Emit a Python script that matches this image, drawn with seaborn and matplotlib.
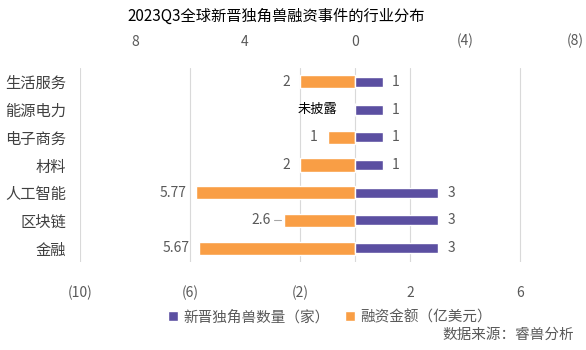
import matplotlib
matplotlib.use("Agg")
import matplotlib.pyplot as plt
import seaborn as sns
import pandas as pd
import numpy as np
from matplotlib.patches import Patch

sns.set_theme(style="white")
plt.rcParams['font.family'] = ['Noto Sans CJK SC', 'DejaVu Sans']

categories = ["生活服务", "能源电力", "电子商务", "材料", "人工智能", "区块链", "金融"]
counts = [1, 1, 1, 1, 3, 3, 3]
amounts = [2, 0, 1, 2, 5.77, 2.6, 5.67]
amount_labels = ["2", "未披露", "1", "2", "5.77", "2.6", "5.67"]
bottom_ticks = [-10, -6, -2, 2, 6]
bottom_ticklabels = ["(10)", "(6)", "(2)", "2", "6"]
top_ticks = [8, 4, 0, -4, -8]
top_ticklabels = ["8", "4", "0", "(4)", "(8)"]
series_names = ["新晋独角兽数量（家）", "融资金额（亿美元）"]

purple = "#5B4FA1"
orange = "#F99E45"
gray_txt = "#595959"
grid_c = "#D9D9D9"

W, H = 586, 350
fig = plt.figure(figsize=(W / 100, H / 100), dpi=100)
ax = fig.add_axes([80 / W, (H - 262) / H, 550 / W, 194 / H])

df_amt = pd.DataFrame({"cat": categories, "val": [-a for a in amounts]})
df_cnt = pd.DataFrame({"cat": categories, "val": counts})

sns.barplot(data=df_amt, x="val", y="cat", orient="h", color=orange,
            width=0.47, saturation=1, ax=ax, label=series_names[1], zorder=3)
sns.barplot(data=df_cnt, x="val", y="cat", orient="h", color=purple,
            width=0.36, saturation=1, ax=ax, label=series_names[0], zorder=3)

ax.set_xlim(-10, 10)
ax.set_ylim(len(categories) - 0.5, -0.5)
ax.set_xticks(bottom_ticks)
ax.set_xticklabels(bottom_ticklabels, fontsize=10, color=gray_txt)
ax.tick_params(axis="x", length=0, pad=17)
ax.tick_params(axis="y", length=0, pad=10, labelsize=11, labelcolor="#404040")
ax.set_xlabel("")
ax.set_ylabel("")
for s in ax.spines.values():
    s.set_visible(False)
ax.grid(axis="x", color=grid_c, linewidth=0.8, zorder=0)
ax.grid(axis="y", visible=False)
ax.axvline(0, color=grid_c, linewidth=0.8, zorder=1)
if ax.get_legend():
    ax.get_legend().remove()

# value labels
for i, (c, a, lab) in enumerate(zip(counts, amounts, amount_labels)):
    ax.annotate(str(c), xy=(c, i), xytext=(7, 0), textcoords="offset points",
                ha="left", va="center", fontsize=10, color=gray_txt)
    if a == 0:
        ax.annotate(lab, xy=(-1.35, i), ha="center", va="center",
                    fontsize=9.5, color="black")
    elif lab == "2.6":
        ax.plot([-a - 0.35, -a - 0.08], [i, i], color="#A6A6A6", lw=0.8, zorder=4)
        ax.annotate(lab, xy=(-a, i), xytext=(-9, 0), textcoords="offset points",
                    ha="right", va="center", fontsize=10, color=gray_txt)
    else:
        ax.annotate(lab, xy=(-a, i), xytext=(-7, 0), textcoords="offset points",
                    ha="right", va="center", fontsize=10, color=gray_txt)

ax2 = ax.twiny()
ax2.set_xlim(10, -10)
ax2.set_xticks(top_ticks)
ax2.set_xticklabels(top_ticklabels, fontsize=10, color=gray_txt)
ax2.tick_params(axis="x", length=0, pad=14)
for s in ax2.spines.values():
    s.set_visible(False)
ax2.grid(False)

fig.text(276 / W, 1 - 16 / H, "2023Q3全球新晋独角兽融资事件的行业分布",
         ha="center", va="center", fontsize=11, color="black")

handles = [Patch(facecolor=purple), Patch(facecolor=orange)]
fig.legend(handles, series_names, loc="center", bbox_to_anchor=(330 / W, 1 - 317 / H),
           ncol=2, frameon=False, handlelength=0.7, handleheight=0.7,
           handletextpad=0.4, columnspacing=1.0, fontsize=10.5,
           labelcolor=gray_txt)

fig.text(574 / W, 1 - 335 / H, "数据来源：睿兽分析", ha="right", va="center",
         fontsize=10.5, color=gray_txt)

fig.savefig("out.png", dpi=100)
